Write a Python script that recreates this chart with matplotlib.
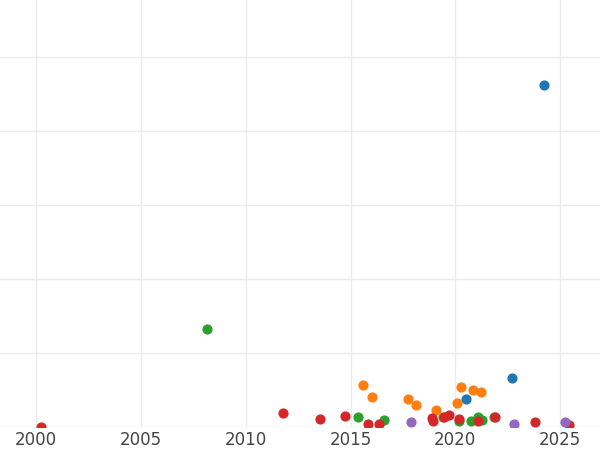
import matplotlib
matplotlib.use("Agg")
import matplotlib.pyplot as plt

blue_x = [2024.23, 2022.71, 2020.51]
blue_y = [4.62, 0.66, 0.38]
green_x = [2008.16, 2015.36, 2016.6, 2019.42, 2020.18, 2020.75, 2021.08, 2021.28, 2021.85]
green_y = [1.32, 0.135, 0.095, 0.135, 0.08, 0.08, 0.135, 0.095, 0.135]
orange_x = [2015.6, 2016.03, 2017.75, 2018.13, 2019.08, 2020.28, 2020.08, 2020.85, 2021.23]
orange_y = [0.57, 0.41, 0.38, 0.30, 0.23, 0.54, 0.32, 0.50, 0.47]
red_x = [2000.24, 2011.78, 2013.55, 2014.74, 2015.84, 2016.36, 2018.89, 2018.94,
         2019.46, 2019.7, 2020.18, 2021.08, 2021.9, 2023.8, 2025.43]
red_y = [0.0, 0.19, 0.11, 0.15, 0.04, 0.04, 0.12, 0.08, 0.135, 0.16, 0.11, 0.08, 0.135, 0.07, 0.03]
purple_x = [2017.89, 2022.8, 2025.24]
purple_y = [0.07, 0.04, 0.07]

fig = plt.figure(figsize=(6, 4.5), dpi=100)
ax = fig.add_axes([0, 23 / 450, 1, 427 / 450])
ax.set_xlim(1998.28, 2026.9)
ax.set_ylim(0, 5.77)
ax.set_yticks([0, 1, 2, 3, 4, 5])
ax.set_xticks([2000, 2005, 2010, 2015, 2020, 2025])
ax.grid(True, color="#ebebeb", lw=1)
ax.set_axisbelow(True)
for s in ax.spines.values():
    s.set_visible(False)
ax.tick_params(axis="y", left=False, labelleft=False)
ax.tick_params(axis="x", length=0, labelsize=12, labelcolor="#444444", pad=3)

ax.scatter(blue_x, blue_y, s=40, color="#1f77b4", zorder=3)
ax.scatter(green_x, green_y, s=40, color="#2ca02c", zorder=3)
ax.scatter(orange_x, orange_y, s=40, color="#ff7f0e", zorder=3)
ax.scatter(red_x, red_y, s=40, color="#d62728", zorder=3)
ax.scatter(purple_x, purple_y, s=40, color="#9467bd", zorder=3)

fig.savefig("out.png", dpi=100)
